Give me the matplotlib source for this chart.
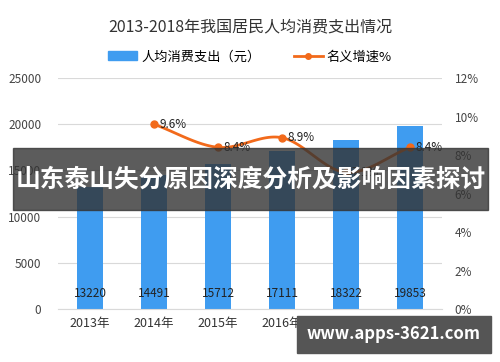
import numpy as np
import matplotlib.pyplot as plt
from matplotlib.patches import Rectangle
from matplotlib.lines import Line2D
from matplotlib.patches import Patch

plt.rcParams['font.family'] = ['Noto Sans CJK SC', 'DejaVu Sans']

years = ['2013年', '2014年', '2015年', '2016年', '2017年', '2018年']
spending = [13220, 14491, 15712, 17111, 18322, 19853]
growth_years = [1, 2, 3, 4, 5]
growth = [9.6, 8.4, 8.9, 7.1, 8.4]

bar_color = '#3F9CF0'
line_color = '#F26A1B'

fig = plt.figure(figsize=(5, 3.62), dpi=100)
ax = fig.add_axes([0.116, 0.1464, 0.768, 0.638])
x = np.arange(len(years))
ax.bar(x, spending, width=0.4, color=bar_color, zorder=2)
for xi, v in zip(x, spending):
    ax.text(xi, 1700, str(v), ha='center', va='center', fontsize=8.5, color='#222222', zorder=3)
ax.set_xlim(-0.5, 5.5)
ax.set_ylim(0, 25000)
ax.set_yticks(range(0, 25001, 5000))
ax.set_xticks(x)
ax.set_xticklabels(years, fontsize=9, color='#333333')
ax.tick_params(axis='y', labelsize=8.5, colors='#444444', length=0, pad=12)
ax.tick_params(axis='x', length=0, pad=6)
ax.grid(axis='y', color='#D9D9D9', linewidth=0.8, zorder=0)
for s in ['top', 'right', 'left']:
    ax.spines[s].set_visible(False)
ax.spines['bottom'].set_color('#D9D9D9')

ax2 = ax.twinx()
ax2.set_ylim(0, 12)
ax2.set_yticks(range(0, 13, 2))
ax2.set_yticklabels([f'{t}%' for t in range(0, 13, 2)])
ax2.tick_params(axis='y', labelsize=8.5, colors='#444444', length=0, pad=9)
for s in ax2.spines.values():
    s.set_visible(False)

# smoothed line drawn through the data points (Catmull-Rom)
gx = np.array(growth_years, dtype=float)
gy = np.array(growth, dtype=float)
px = np.concatenate([[2 * gx[0] - gx[1]], gx, [2 * gx[-1] - gx[-2]]])
py = np.concatenate([[2 * gy[0] - gy[1]], gy, [2 * gy[-1] - gy[-2]]])
sx, sy = [], []
t = np.linspace(0, 1, 30)
for i in range(1, len(px) - 2):
    for arr, out in ((px, sx), (py, sy)):
        p0, p1, p2, p3 = arr[i - 1], arr[i], arr[i + 1], arr[i + 2]
        out.extend(0.5 * (2 * p1 + (-p0 + p2) * t + (2 * p0 - 5 * p1 + 4 * p2 - p3) * t ** 2
                          + (-p0 + 3 * p1 - 3 * p2 + p3) * t ** 3))
ax2.plot(sx, sy, color=line_color, linewidth=2, zorder=3)
ax2.plot(gx, gy, 'o', color=line_color, markersize=5, zorder=4)
for xi, v in zip(gx, gy):
    ax2.text(xi + 0.08, v, f'{v}%', ha='left', va='center', fontsize=8.5, color='#222222')

fig.text(0.5, 0.925, '2013-2018年我国居民人均消费支出情况', ha='center', va='center', fontsize=11.5, color='#333333')
handles = [Patch(color=bar_color), Line2D([0], [0], color=line_color, lw=2, marker='o', markersize=4)]
fig.legend(handles, ['人均消费支出（元）', '名义增速%'], loc='center', bbox_to_anchor=(0.5, 0.843),
           ncol=2, frameon=False, fontsize=9.5, handlelength=2.2, columnspacing=2.5, handletextpad=0.3)

# overlay banner
fig.patches.append(Rectangle((0.026, 0.42), 0.95, 0.172, transform=fig.transFigure,
                             color='#333333', alpha=0.8, zorder=10))
fig.text(0.502, 0.505, '山东泰山失分原因深度分析及影响因素探讨', ha='center', va='center',
         fontsize=17.8, fontweight='bold', color='white', zorder=11)
fig.patches.append(Rectangle((0.594, 0.025), 0.388, 0.102, transform=fig.transFigure,
                             color='#555555', zorder=10))
fig.text(0.788, 0.076, 'www.apps-3621.com', ha='center', va='center',
         fontsize=12, fontweight='bold', color='white', zorder=11)

fig.savefig('out.png', dpi=100)
